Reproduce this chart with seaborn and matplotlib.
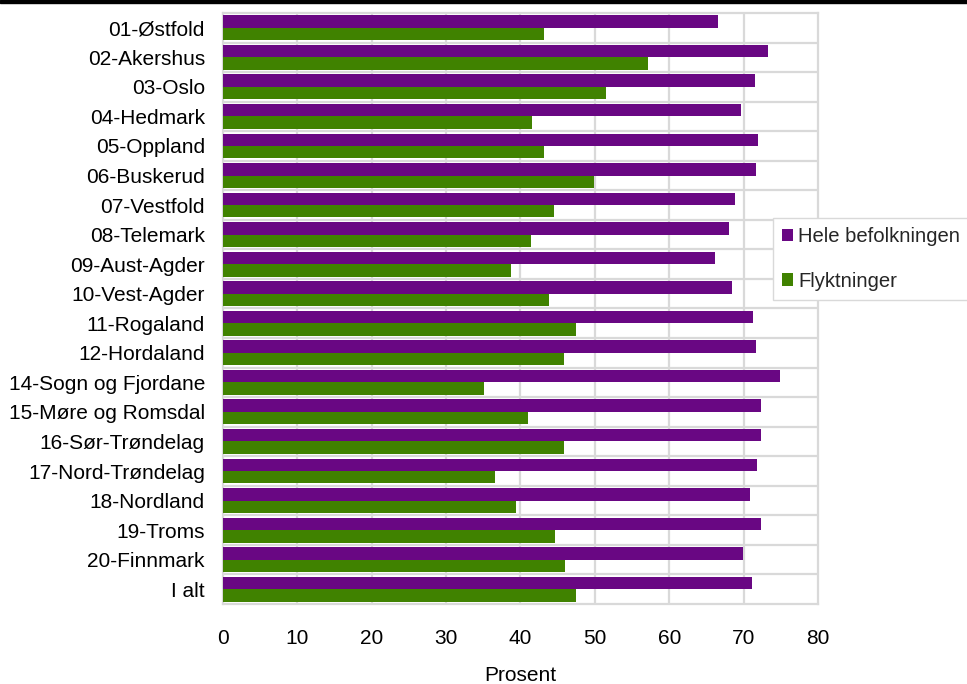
import pandas as pd
import seaborn as sns
import matplotlib.pyplot as plt

# fylker og andel (prosent)
fylker = ['01-Østfold', '02-Akershus', '03-Oslo', '04-Hedmark', '05-Oppland',
          '06-Buskerud', '07-Vestfold', '08-Telemark', '09-Aust-Agder', '10-Vest-Agder',
          '11-Rogaland', '12-Hordaland', '14-Sogn og Fjordane', '15-Møre og Romsdal',
          '16-Sør-Trøndelag', '17-Nord-Trøndelag', '18-Nordland', '19-Troms',
          '20-Finnmark', 'I alt']
hele = [66.6, 73.3, 71.5, 69.6, 72.0, 71.6, 68.9, 68.0, 66.1, 68.5,
        71.3, 71.6, 74.9, 72.3, 72.3, 71.8, 70.9, 72.4, 69.9, 71.1]
flykt = [43.2, 57.2, 51.5, 41.6, 43.2, 49.9, 44.5, 41.4, 38.7, 43.8,
         47.5, 45.9, 35.1, 41.0, 45.9, 36.6, 39.4, 44.7, 46.0, 47.5]
grupper = ['Hele befolkningen', 'Flyktninger']
farger = ['#690783', '#408200']

df = pd.DataFrame({'Fylke': fylker * 2,
                   'Prosent': hele + flykt,
                   'Gruppe': [grupper[0]] * len(fylker) + [grupper[1]] * len(fylker)})

sns.set_style('white')
plt.rcParams['font.family'] = ['Liberation Sans', 'DejaVu Sans']

fig = plt.figure(figsize=(9.67, 6.84), dpi=100)
ax = fig.add_axes([0.2306, 0.117, 0.6153, 0.864])

sns.barplot(data=df, y='Fylke', x='Prosent', hue='Gruppe', orient='h',
            palette=farger, width=0.84, saturation=1, linewidth=0, ax=ax, zorder=3)

grid = '#d9d9d9'
ax.set_xlim(0, 80)
ax.set_xticks(range(0, 81, 10))
ax.set_ylim(len(fylker) - 0.5, -0.5)
for x in range(10, 80, 10):
    ax.axvline(x, color=grid, lw=1.6, zorder=1)
for i in range(len(fylker) - 1):
    ax.axhline(i + 0.5, color=grid, lw=1.6, zorder=1)
for s in ax.spines.values():
    s.set_color(grid)
    s.set_linewidth(1.6)

ax.tick_params(axis='both', length=0, labelsize=15, colors='black')
ax.tick_params(axis='y', pad=13)
ax.tick_params(axis='x', pad=18)
ax.set_ylabel('')
ax.set_xlabel('Prosent', fontsize=15, labelpad=13, color='black')

ax.legend(loc='upper left', bbox_to_anchor=(0.799, 0.681), bbox_transform=fig.transFigure,
          borderaxespad=0, fontsize=14.6, frameon=True, fancybox=False, edgecolor=grid,
          framealpha=1, handlelength=0.55, handleheight=0.55, handletextpad=0.25,
          labelspacing=1.25, borderpad=0.45)

fig.add_artist(plt.Rectangle((0, 1 - 3 / 684), 1, 3 / 684, transform=fig.transFigure,
                             color='black'))

fig.savefig('out.png', dpi=100)
